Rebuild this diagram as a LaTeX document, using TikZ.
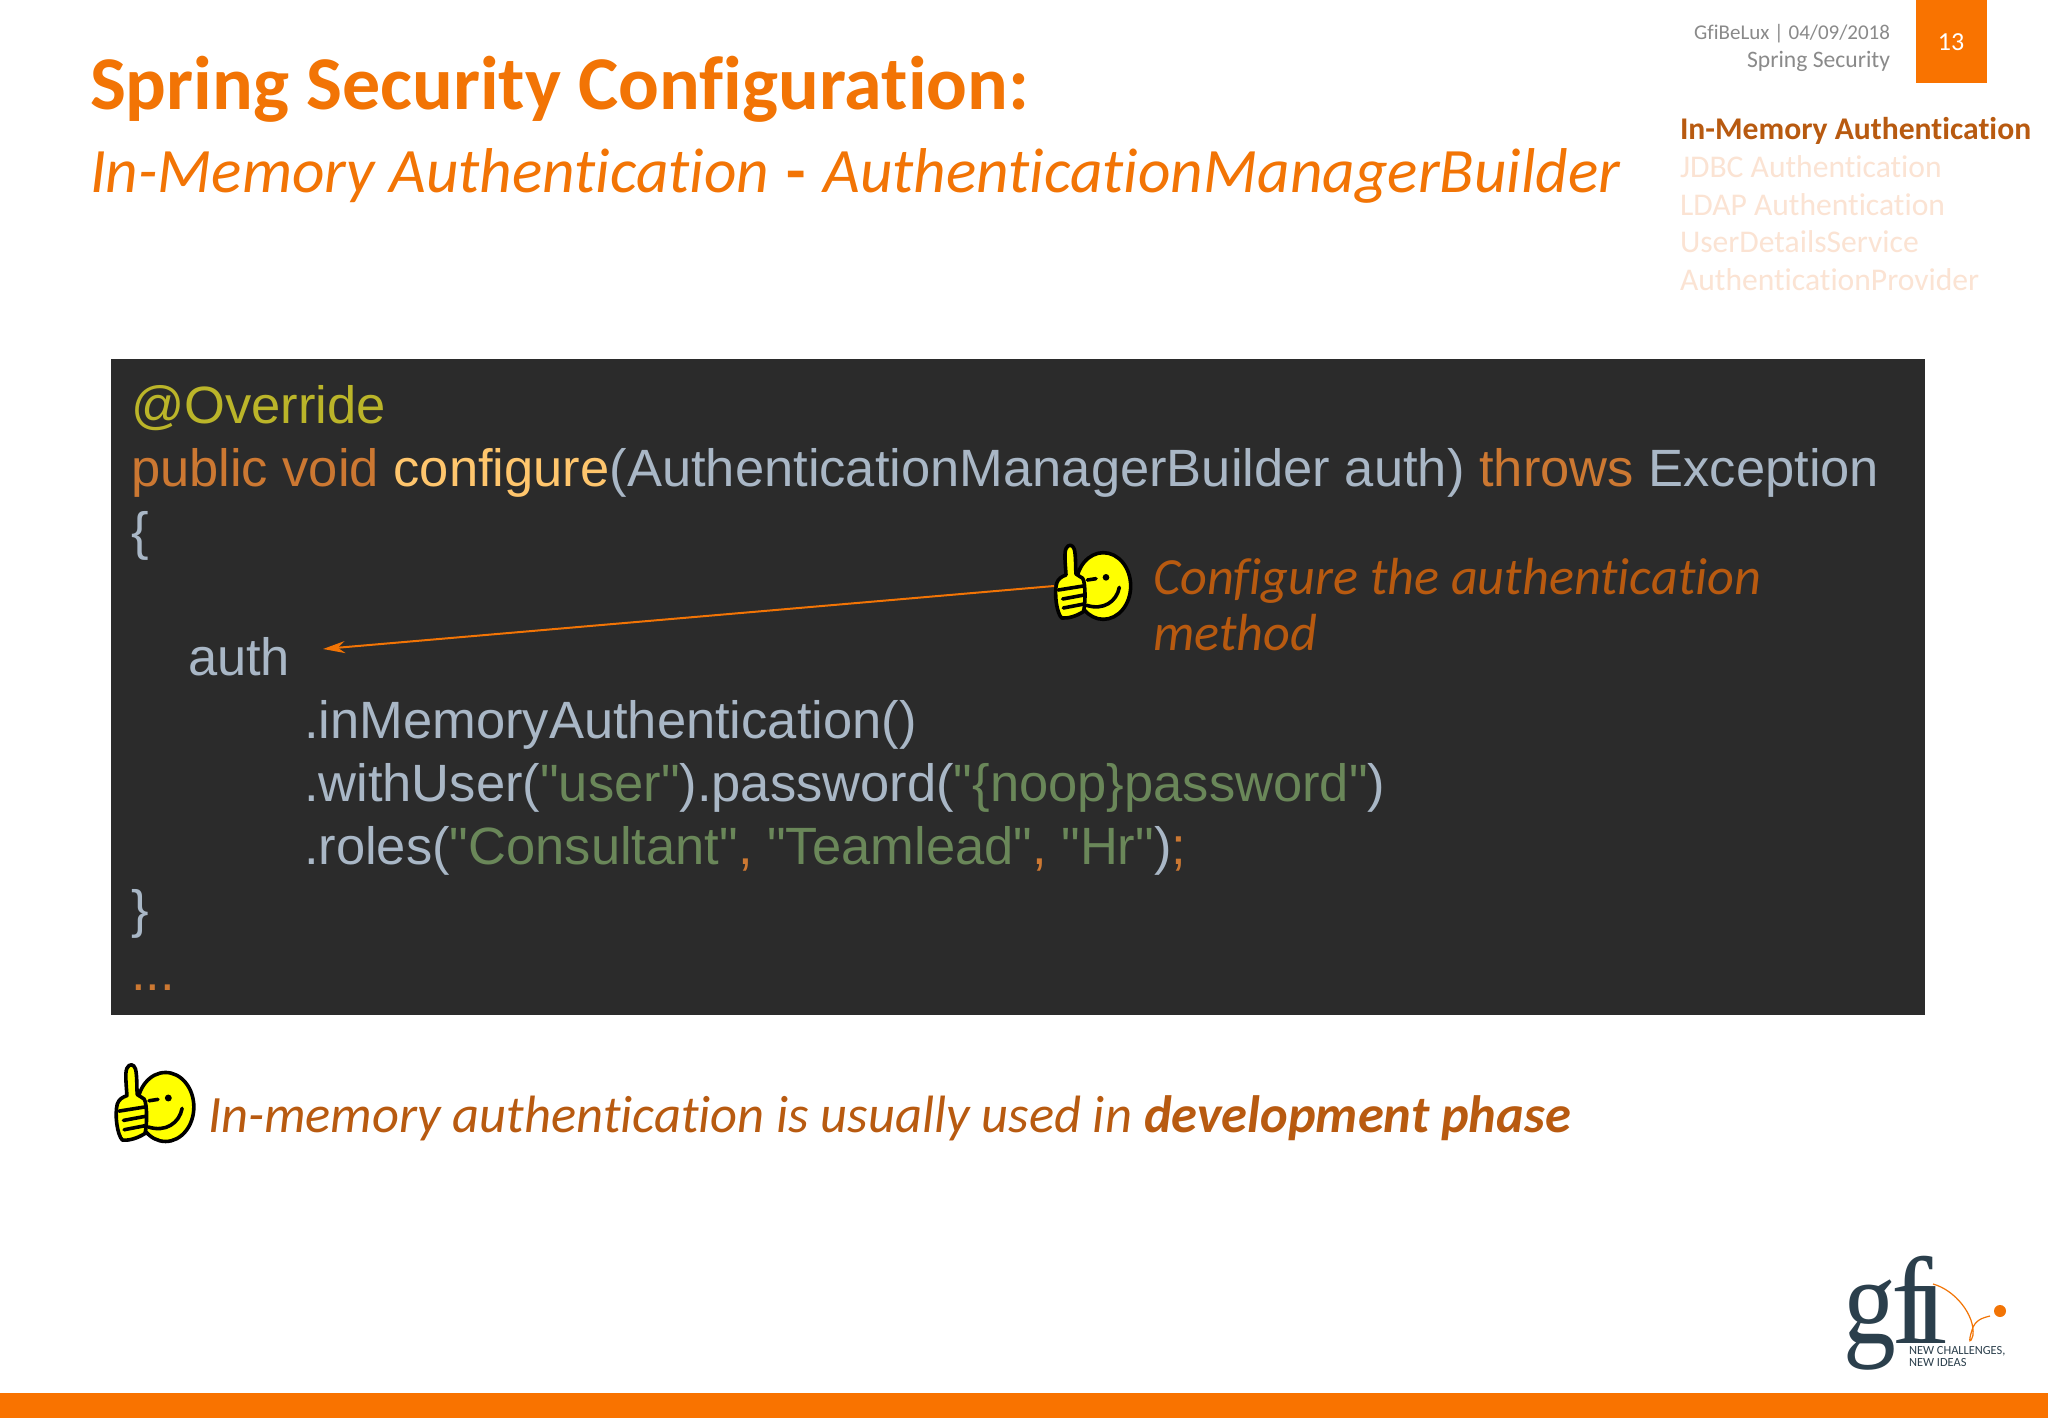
\documentclass[tikz,border=0pt]{standalone}
\usepackage{fontspec}
\usepackage{graphicx}
\setmainfont[Ligatures=NoCommon]{Carlito}
\newfontfamily\codefont{Liberation Sans}
\newfontfamily\logofont{Liberation Serif}
\usetikzlibrary{arrows.meta}
\definecolor{barorange}{HTML}{F97300}
\definecolor{titleorange}{HTML}{F27405}
\definecolor{subtleorange}{HTML}{FBE3D3}
\definecolor{darkorange}{HTML}{B85A10}
\definecolor{headgrey}{HTML}{8A8A8A}
\definecolor{codebg}{HTML}{2B2B2B}
\definecolor{cplain}{HTML}{A9B7C6}
\definecolor{ckey}{HTML}{CC7832}
\definecolor{cmeth}{HTML}{FFC66D}
\definecolor{cstr}{HTML}{6A8759}
\definecolor{cann}{HTML}{BBB529}
\definecolor{logoink}{HTML}{2B3F4C}
\definecolor{smile}{HTML}{FFFF00}
\tikzset{
  txt/.style={anchor=base west,inner sep=0pt,outer sep=0pt},
  txtr/.style={anchor=base east,inner sep=0pt,outer sep=0pt},
  code/.style={txt,font=\codefont\fontsize{26.25}{30}\selectfont,text=cplain},
  navitem/.style={txt,font=\fontsize{15.8}{19}\selectfont,text=subtleorange},
  iconline/.style={draw=black,line width=1.8pt,line join=round,line cap=round},
}
\newcommand{\thumbicon}[3]{%
\begin{scope}[shift={(#1,#2)},scale=#3]
  \path[iconline,fill=smile] (190,168) ellipse [x radius=82,y radius=100];
  \path[iconline,fill=smile] (78,135) .. controls (76,100) and (72,70) .. (78,56)
     .. controls (84,42) and (98,42) .. (103,58)
     .. controls (108,80) and (106,110) .. (108,132)
     -- (128,145) .. controls (138,160) and (136,230) .. (130,245)
     .. controls (110,258) and (85,266) .. (65,264)
     .. controls (50,250) and (42,190) .. (50,160)
     .. controls (55,145) and (65,140) .. cycle;
  \draw[iconline] (55,180) -- (130,168) (68,207) -- (132,195) (70,234) -- (132,222);
  \draw[iconline] (142,150) -- (168,146);
  \draw[iconline] (238,172) .. controls (230,215) and (190,242) .. (140,226);
  \fill[black] (198,142) circle [radius=10];
\end{scope}}
\begin{document}
\begin{tikzpicture}[x=0.5pt,y=-0.5pt]
\useasboundingbox (0,0) rectangle (2048,1418);
\fill[white] (0,0) rectangle (2048,1418);
% frame
\fill[barorange] (0,1393) rectangle (2048,1418);
\fill[barorange] (1916,0) rectangle (1987,83);
\node[anchor=center,inner sep=0pt,text=white,font=\fontsize{13}{15}\selectfont] (pageno) at (1951,42) {13};
\node[txtr,text=headgrey,font=\fontsize{10.5}{12}\selectfont] (head1) at (1890,40) {GfiBeLux | 04/09/2018};
\node[txtr,text=headgrey,font=\fontsize{11.8}{14}\selectfont] (head2) at (1890,68) {Spring Security};
% titles
\node[txt,text=titleorange,font=\bfseries\fontsize{38}{42}\selectfont] (title) at (90,110) {Spring Security Configuration:};
\node[txt,text=titleorange,font=\itshape\fontsize{31.65}{36}\selectfont] (subtitle) at (90,192) {In-Memory Authentication\kern1.5pt\ {\upshape\bfseries -}\ \kern1.5pt AuthenticationManagerBuilder};
% nav
\node[txt,text=darkorange,font=\bfseries\fontsize{15.8}{19}\selectfont] (nav1) at (1680,140) {In-Memory Authentication};
\node[navitem] (nav2) at (1680,177) {JDBC Authentication};
\node[navitem] (nav3) at (1680,215) {LDAP Authentication};
\node[navitem] (nav4) at (1680,252) {UserDetailsService};
\node[navitem] (nav5) at (1680,290) {AuthenticationProvider};
% code
\fill[codebg] (111,359) rectangle (1925,1015);
\node[code] (l1) at (131,423) {\textcolor{cann}{@Override}};
\node[code] (l2) at (131,486) {\textcolor{ckey}{public void} \textcolor{cmeth}{configure}(AuthenticationManagerBuilder auth) \textcolor{ckey}{throws} Exception};
\node[code] (l3) at (131,549) {\{};
\node[code] (l4) at (188,675) {auth};
\node[code] (l5) at (304,738) {.inMemoryAuthentication()};
\node[code] (l6) at (304,801) {.withUser(\textcolor{cstr}{"user"}).password(\textcolor{cstr}{"\{noop\}password"})};
\node[code] (l7) at (304,864) {.roles(\textcolor{cstr}{"Consultant"}\textcolor{ckey}{,} \textcolor{cstr}{"Teamlead"}\textcolor{ckey}{,} \textcolor{cstr}{"Hr"})\textcolor{ckey}{;}};
\node[code] (l8) at (131,927) {\}};
\node[code,text=ckey] (l9) at (131,990) {...};
% callout
\thumbicon{1040}{530}{0.3333}
\coordinate (thumbL) at (1054,586);
\coordinate (authR) at (323,649);
\draw[-{Stealth[length=11pt,width=6pt]},draw=titleorange,fill=titleorange,line width=1pt] (thumbL) -- (authR);
\node[txt,text=darkorange,font=\itshape\fontsize{26.1}{29}\selectfont] (call1) at (1153,594) {Configure the authentication};
\node[txt,text=darkorange,font=\itshape\fontsize{26.1}{29}\selectfont] (call2) at (1153,650) {method};
% note
\thumbicon{100}{1049}{0.345}
\node[txt,text=darkorange,font=\itshape\fontsize{26.25}{29}\selectfont] (note) at (208,1132) {In-memory authentication is usually used in \textbf{development phase}};
% logo
\node[txt,text=logoink,font=\logofont\fontsize{62}{70}\selectfont] (gfi) at (1843,1343) {\scalebox{0.85}[1]{g}\kern-2pt f\kern-10pt ı};
\node[txt,text=logoink,font=\fontsize{6.2}{6.2}\selectfont,align=left,anchor=north west] (tag) at (1909,1346) {NEW CHALLENGES,\\NEW IDEAS};
\coordinate (sw0) at (1933,1284);
\coordinate (sw2) at (1990,1316);
\draw[titleorange,line width=0.6pt] (sw0) .. controls (1955,1290) and (1975,1315) .. (1973,1335) .. controls (1970,1345) and (1968,1342) .. (1972,1330) .. controls (1975,1320) and (1982,1318) .. (sw2);
\fill[titleorange] (2000,1311) circle [radius=6];
\end{tikzpicture}
\end{document}
